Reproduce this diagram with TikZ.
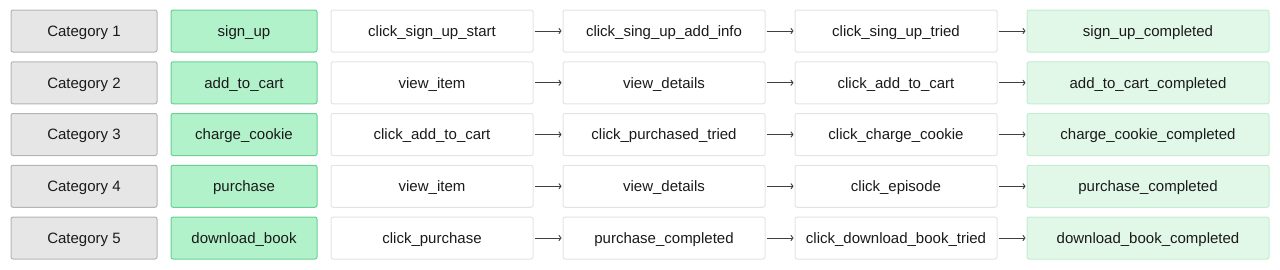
\documentclass[tikz,border=0pt]{standalone}
\usepackage{fontspec}
\setmainfont{Liberation Sans}
\usepackage{tikz}
\usetikzlibrary{arrows.meta,positioning}
\definecolor{catfill}{HTML}{E6E6E6}
\definecolor{catline}{HTML}{B4B4B4}
\definecolor{evfill}{HTML}{B2F2CA}
\definecolor{evline}{HTML}{66D194}
\definecolor{stepline}{HTML}{E4E4E4}
\definecolor{donefill}{HTML}{E1F8E9}
\definecolor{doneline}{HTML}{C4EDD2}
\definecolor{txt}{HTML}{1A1A1A}
\tikzstyle{catbox} = [rectangle, draw=catline, fill=catfill, rounded corners=2pt,
                      minimum width=146pt, minimum height=42pt, line width=1pt,
                      text height=10.8pt, text depth=0pt,
                      text=txt, font=\fontsize{15}{18}\selectfont]
\tikzstyle{evbox} = [catbox, draw=evline, fill=evfill]
\tikzstyle{stepbox} = [catbox, draw=stepline, fill=white, minimum width=202pt]
\tikzstyle{donebox} = [catbox, draw=doneline, fill=donefill, minimum width=242pt]
\tikzstyle{arrow} = [-{To[length=3pt,width=6pt]}, line width=0.9pt, draw=black!75,
                     shorten <=1pt, shorten >=1pt]

\begin{document}
\begin{tikzpicture}[node distance=8.75pt]
    \useasboundingbox (0,0) rectangle (1280pt,-269pt);
    % first column
    \node [catbox] (cat1) at (84pt,-31pt) {Category 1};
    \node [catbox, below=of cat1] (cat2) {Category 2};
    \node [catbox, below=of cat2] (cat3) {Category 3};
    \node [catbox, below=of cat3] (cat4) {Category 4};
    \node [catbox, below=of cat4] (cat5) {Category 5};

    % row 1
    \node [evbox, right=13pt of cat1]   (ev1)  {sign\_up};
    \node [stepbox, right=13pt of ev1]  (s11)  {click\_sign\_up\_start};
    \node [stepbox, right=29pt of s11]  (s12)  {click\_sing\_up\_add\_info};
    \node [stepbox, right=29pt of s12]  (s13)  {click\_sing\_up\_tried};
    \node [donebox, right=29pt of s13]  (d1)   {sign\_up\_completed};

    % row 2
    \node [evbox, right=13pt of cat2]   (ev2)  {add\_to\_cart};
    \node [stepbox, right=13pt of ev2]  (s21)  {view\_item};
    \node [stepbox, right=29pt of s21]  (s22)  {view\_details};
    \node [stepbox, right=29pt of s22]  (s23)  {click\_add\_to\_cart};
    \node [donebox, right=29pt of s23]  (d2)   {add\_to\_cart\_completed};

    % row 3
    \node [evbox, right=13pt of cat3]   (ev3)  {charge\_cookie};
    \node [stepbox, right=13pt of ev3]  (s31)  {click\_add\_to\_cart};
    \node [stepbox, right=29pt of s31]  (s32)  {click\_purchased\_tried};
    \node [stepbox, right=29pt of s32]  (s33)  {click\_charge\_cookie};
    \node [donebox, right=29pt of s33]  (d3)   {charge\_cookie\_completed};

    % row 4
    \node [evbox, right=13pt of cat4]   (ev4)  {purchase};
    \node [stepbox, right=13pt of ev4]  (s41)  {view\_item};
    \node [stepbox, right=29pt of s41]  (s42)  {view\_details};
    \node [stepbox, right=29pt of s42]  (s43)  {click\_episode};
    \node [donebox, right=29pt of s43]  (d4)   {purchase\_completed};

    % row 5
    \node [evbox, right=13pt of cat5]   (ev5)  {download\_book};
    \node [stepbox, right=13pt of ev5]  (s51)  {click\_purchase};
    \node [stepbox, right=29pt of s51]  (s52)  {purchase\_completed};
    \node [stepbox, right=29pt of s52]  (s53)  {click\_download\_book\_tried};
    \node [donebox, right=29pt of s53]  (d5)   {download\_book\_completed};

    \draw [arrow] (s11) -- (s12);
    \draw [arrow] (s12) -- (s13);
    \draw [arrow] (s13) -- (d1);
    \draw [arrow] (s21) -- (s22);
    \draw [arrow] (s22) -- (s23);
    \draw [arrow] (s23) -- (d2);
    \draw [arrow] (s31) -- (s32);
    \draw [arrow] (s32) -- (s33);
    \draw [arrow] (s33) -- (d3);
    \draw [arrow] (s41) -- (s42);
    \draw [arrow] (s42) -- (s43);
    \draw [arrow] (s43) -- (d4);
    \draw [arrow] (s51) -- (s52);
    \draw [arrow] (s52) -- (s53);
    \draw [arrow] (s53) -- (d5);
  \end{tikzpicture}
\end{document}
